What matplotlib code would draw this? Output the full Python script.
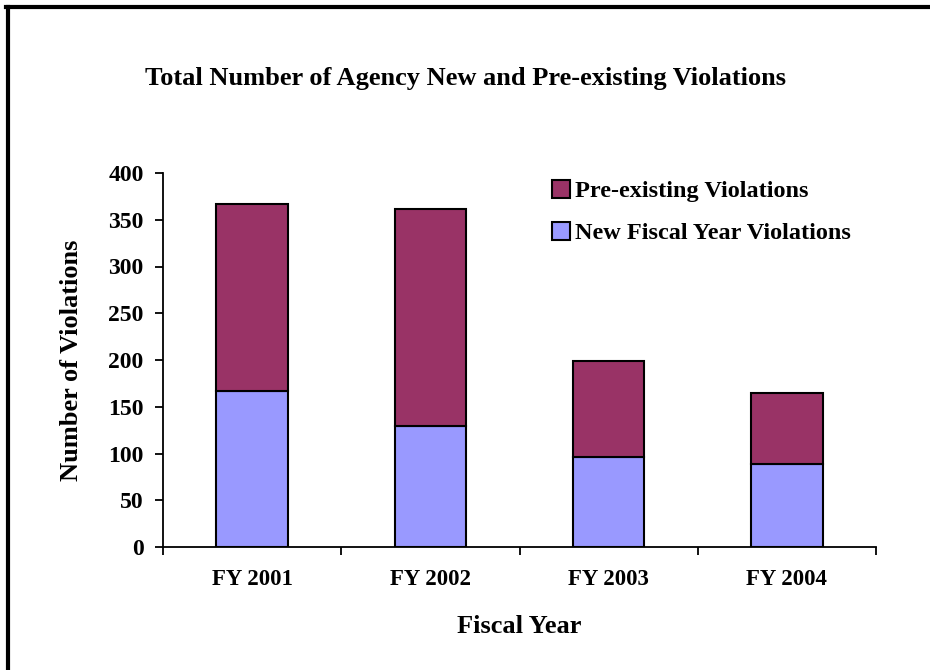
import matplotlib.pyplot as plt
import numpy as np
from matplotlib.lines import Line2D

# Data
years = ['FY 2001', 'FY 2002', 'FY 2003', 'FY 2004']
new_violations = [167, 129, 96, 89]
total_violations = [367, 361, 199, 165]
pre_existing = [t - n for t, n in zip(total_violations, new_violations)]

plt.rcParams['font.family'] = ['Liberation Serif', 'DejaVu Serif']
plt.rcParams['font.weight'] = 'bold'

fig = plt.figure(figsize=(9.3, 6.7), dpi=100)
ax = fig.add_axes([163/930, 1 - 547/670, (876 - 163)/930, (547 - 173)/670])

x = np.arange(len(years))
ax.bar(x, new_violations, width=0.4, color='#9999FF', edgecolor='black', linewidth=1.5,
       label='New Fiscal Year Violations')
ax.bar(x, pre_existing, width=0.4, bottom=new_violations, color='#993366',
       edgecolor='black', linewidth=1.5, label='Pre-existing Violations')

ax.set_xlim(-0.5, 3.5)
ax.set_ylim(0, 400)
ax.set_yticks(range(0, 401, 50))
ax.set_xticks(np.arange(-0.5, 4, 1))
ax.set_xticklabels([])
ax.set_xticks(x, minor=True)
ax.set_xticklabels(years, minor=True, fontsize=16.5, fontweight='bold')
ax.tick_params(axis='x', which='minor', length=0, pad=16)
ax.tick_params(axis='x', which='major', length=6, width=1.3, direction='out')
ax.tick_params(axis='y', length=6, width=1.3, direction='out', labelsize=17, pad=8)
for lab in ax.get_yticklabels():
    lab.set_fontweight('bold')

ax.spines['top'].set_visible(False)
ax.spines['right'].set_visible(False)
ax.spines['left'].set_linewidth(1.3)
ax.spines['bottom'].set_linewidth(1.3)

ax.set_ylabel('Number of Violations', fontsize=19, fontweight='bold')
ax.yaxis.set_label_coords((83 - 163) / 713, 0.5)
ax.set_xlabel('Fiscal Year', fontsize=19, fontweight='bold')
ax.xaxis.set_label_coords(0.5, -(615 - 547) / 374)

fig.text(0.5, 1 - 78/670, 'Total Number of Agency New and Pre-existing Violations',
         ha='center', va='center', fontsize=19, fontweight='bold')

handles, labels = ax.get_legend_handles_labels()
leg = ax.legend(handles[::-1], labels[::-1], loc='upper left', bbox_to_anchor=(0.515, 1.04),
                frameon=False, handlelength=0.75, handleheight=0.75,
                handletextpad=0.2, labelspacing=0.8, prop={'weight': 'bold', 'size': 17.5})

# outer border (left and top only visible)
fig.add_artist(Line2D([7.5/930, 7.5/930], [0, 1 - 6.5/670], color='black', linewidth=3,
                      transform=fig.transFigure))
fig.add_artist(Line2D([6/930, 1], [1 - 6.5/670, 1 - 6.5/670], color='black', linewidth=3,
                      transform=fig.transFigure))

fig.savefig('out.png', dpi=100)
